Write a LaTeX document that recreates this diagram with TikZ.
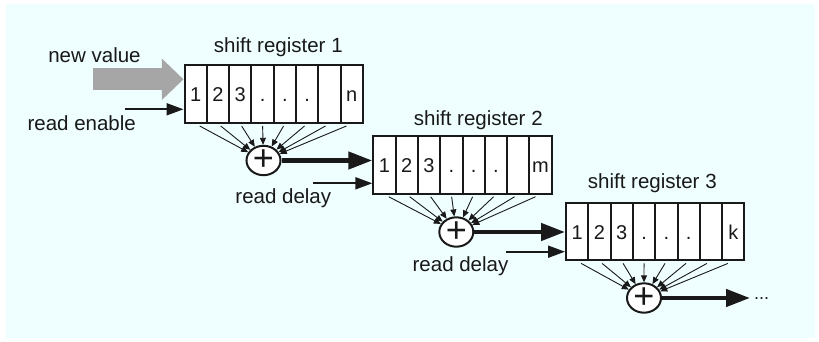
\documentclass[tikz,border=0pt]{standalone}
\usepackage{fontspec}
\setmainfont{Liberation Sans}
\usetikzlibrary{arrows.meta,shapes.geometric,calc}
\definecolor{bgc}{RGB}{239,254,254}
\definecolor{gv}{RGB}{166,166,166}
\definecolor{ink}{RGB}{25,25,25}
\begin{document}
\begin{tikzpicture}[x=1pt,y=-1pt,
  cell/.style={draw=ink,line width=2pt,fill=white,minimum width=22.3pt,minimum height=57.5pt,inner sep=0pt,anchor=north west},
  ctext/.style={font=\fontsize{20}{22}\selectfont,text=ink,anchor=base,inner sep=0pt},
  lbl/.style={font=\fontsize{20.5}{24}\selectfont,text=ink,anchor=base,inner sep=0pt},
  sum/.style={ellipse,draw=ink,line width=2pt,fill=white,minimum width=34pt,minimum height=25pt,inner sep=0pt,text=ink,font=\fontsize{36}{36}\selectfont},
  tap/.style={draw=ink,line width=0.9pt,-{Triangle[length=7pt,width=6pt]}},
  bigarrow/.style={draw=ink,line width=4.5pt,-{Triangle[length=24pt,width=17pt]}},
  ctrl/.style={draw=ink,line width=2pt,-{Triangle[length=17pt,width=12pt]}}]
\useasboundingbox (0,0) rectangle (819,342);
\fill[white] (0,0) rectangle (819,342);
\fill[bgc] (6,4) rectangle (815,338);

% incoming arrows
\coordinate (nv) at (93.3,79.3);
\coordinate (re) at (125,109.3);
\coordinate (rd1) at (313.3,183.3);
\coordinate (rd2) at (506,251.7);

% registers
\foreach \r/\x/\y/\last in {1/183.5/64.3/n, 2/372.3/135/m, 3/565/201.7/k} {
  \foreach \i/\t in {1/1,2/2,3/3,4/.,5/.,6/.,7/{},8/\last} {
    \node[cell] (r\r-\i) at ({\x+(\i-1)*22.3},\y) {};
    \node[ctext] (t\r-\i) at ($(r\r-\i.north)+(0,37.5)$) {\t};
  }
}

\draw[gv,line width=21.7pt,-{Triangle[length=21.6pt,width=40pt]}] (nv) -- (nv -| r1-1.west);
\draw[ctrl] (re) -- (re -| r1-1.west);
\draw[ctrl] (rd1) -- (rd1 -| r2-1.west);
\draw[ctrl] (rd2) -- (rd2 -| r3-1.west);

% adders
\node[sum] (e1) at (263.5,160.5) {+};
\node[sum] (e2) at (456.3,232) {+};
\node[sum] (e3) at (644,298) {+};

\foreach \r in {1,2,3} {
  \foreach \i in {1,...,8} {
    \draw[tap] ($(r\r-\i.south)!0.06!(e\r)$) -- (e\r);
  }
}

\draw[bigarrow] (e1.east) -- (e1.east -| r2-1.west);
\draw[bigarrow] (e2.east) -- (e2.east -| r3-1.west);
\coordinate (out) at (750,298);
\draw[bigarrow] (e3.east) -- (out);
\node[ctext,font=\fontsize{18}{20}\selectfont,anchor=base west] (dots) at (754,299) {...};

% labels
\node[lbl] (l1) at (278.3,52.7) {shift register 1};
\node[lbl] (l2) at (478.3,125) {shift register 2};
\node[lbl] (l3) at (652.3,188.3) {shift register 3};
\node[lbl] (nvl) at (94.5,62.7) {new value};
\node[lbl] (rel) at (81.7,130.7) {read enable};
\node[lbl] (rdl1) at (283.3,203.3) {read delay};
\node[lbl] (rdl2) at (460.5,271.7) {read delay};
\end{tikzpicture}
\end{document}
